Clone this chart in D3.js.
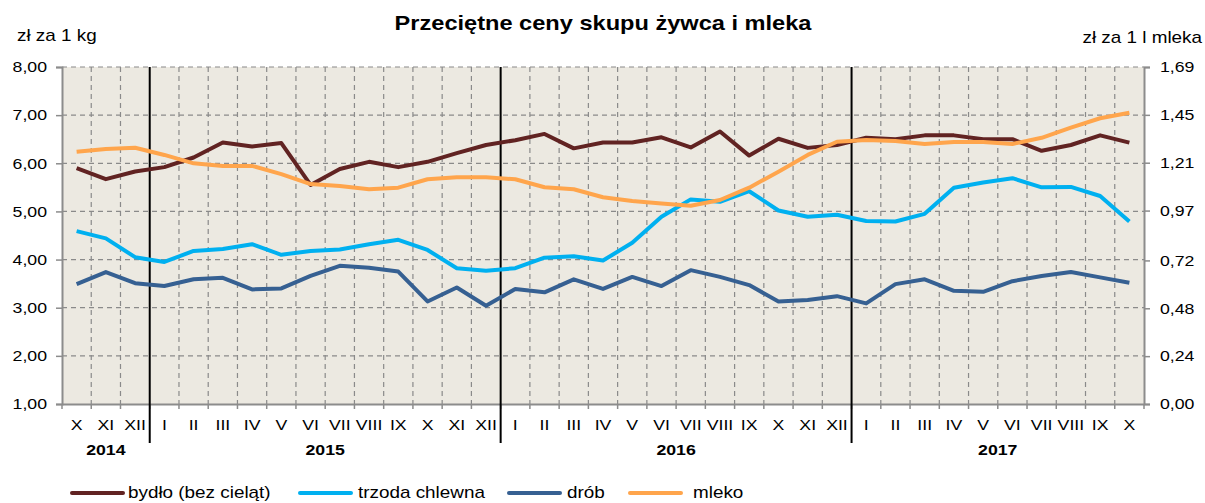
<!DOCTYPE html>
<html>
<head>
<meta charset="utf-8">
<script src="https://cdn.jsdelivr.net/npm/d3@7/dist/d3.min.js"></script>
<style>
  body { margin: 0; background: #fff; }
  svg { font-family: 'Liberation Sans', Arial, sans-serif; }
  .axis path, .axis line { stroke: #8c8c8c; }
  .axis text { font-size: 15px; fill: #000; }
</style>
</head>
<body>
<svg width="1205" height="503"></svg>
<script>
const months = ['X','XI','XII',
  'I','II','III','IV','V','VI','VII','VIII','IX','X','XI','XII',
  'I','II','III','IV','V','VI','VII','VIII','IX','X','XI','XII',
  'I','II','III','IV','V','VI','VII','VIII','IX','X'];
const years = [
  { label: '2014', from: 0, to: 3 },
  { label: '2015', from: 3, to: 15 },
  { label: '2016', from: 15, to: 27 },
  { label: '2017', from: 27, to: 37 }
];

// zł za 1 kg
const bydlo = [5.90, 5.67, 5.83, 5.92, 6.12, 6.43, 6.35, 6.42, 5.55, 5.88, 6.03, 5.92, 6.03,
  6.21, 6.38, 6.48, 6.61, 6.31, 6.43, 6.43, 6.54, 6.33, 6.66, 6.16, 6.51, 6.32, 6.38,
  6.53, 6.50, 6.58, 6.58, 6.50, 6.50, 6.26, 6.38, 6.58, 6.43];
const trzoda = [4.59, 4.44, 4.05, 3.95, 4.18, 4.22, 4.32, 4.10, 4.18, 4.21, 4.32, 4.41, 4.20,
  3.82, 3.77, 3.82, 4.04, 4.07, 3.98, 4.35, 4.89, 5.25, 5.20, 5.42, 5.02, 4.89, 4.93,
  4.80, 4.79, 4.95, 5.49, 5.60, 5.69, 5.50, 5.51, 5.32, 4.79];
const drob = [3.49, 3.74, 3.51, 3.45, 3.59, 3.62, 3.38, 3.40, 3.66, 3.87, 3.83, 3.75, 3.13,
  3.42, 3.04, 3.39, 3.32, 3.59, 3.39, 3.64, 3.45, 3.78, 3.64, 3.47, 3.13, 3.16, 3.24,
  3.09, 3.49, 3.59, 3.35, 3.33, 3.55, 3.66, 3.74, 3.63, 3.52];
// zł za 1 l
const mleko = [1.265, 1.279, 1.285, 1.249, 1.207, 1.194, 1.194, 1.153, 1.103, 1.093, 1.077, 1.085, 1.127,
  1.137, 1.137, 1.127, 1.087, 1.077, 1.037, 1.018, 1.006, 0.994, 1.023, 1.085, 1.165, 1.249, 1.315,
  1.324, 1.319, 1.304, 1.314, 1.314, 1.304, 1.335, 1.386, 1.433, 1.461];

const leftTicks = [1, 2, 3, 4, 5, 6, 7, 8];
const rightTicks = [0, 0.24, 0.48, 0.72, 0.97, 1.21, 1.45, 1.69];

const series = [
  { name: 'bydło (bez cieląt)', values: bydlo, color: '#612322', axis: 'left', lx: 72, tx: 128 },
  { name: 'trzoda chlewna', values: trzoda, color: '#00b0f0', axis: 'left', lx: 300, tx: 358 },
  { name: 'drób', values: drob, color: '#366092', axis: 'left', lx: 509, tx: 567 },
  { name: 'mleko', values: mleko, color: '#ffa54c', axis: 'right', lx: 630, tx: 693 }
];

const svg = d3.select('svg');
const plotL = 62, plotR = 1144, plotT = 67, plotB = 404;
const SX = 1.18; // text in the source is a bit wider than it is tall

const x = d3.scaleBand()
  .domain(d3.range(months.length))
  .range([plotL, plotR]);
const yL = d3.scaleLinear().domain([1, 8]).range([plotB, plotT]);
const yR = d3.scaleLinear().domain([0, 1.69]).range([plotB, plotT]);
const fmt = v => d3.format('.2f')(v).replace('.', ',');

// stretch text horizontally around its anchor point
const stretch = sel => sel.each(function() {
  const t = d3.select(this);
  const tx = +t.attr('x') || 0;
  t.attr('x', 0).attr('transform', `translate(${tx},0) scale(${SX},1)`);
});

// plot background
svg.append('rect')
  .attr('x', plotL).attr('y', plotT)
  .attr('width', plotR - plotL).attr('height', plotB - plotT)
  .attr('fill', '#ece9e1');

// grid
const grid = svg.append('g')
  .attr('stroke', '#8a8a8a')
  .attr('stroke-dasharray', '5,4')
  .attr('stroke-width', 1.2);
grid.selectAll('.h').data(leftTicks.slice(1)).enter()
  .append('line')
  .attr('x1', plotL).attr('x2', plotR)
  .attr('y1', d => yL(d)).attr('y2', d => yL(d));
const yearBreaks = years.slice(1).map(y => y.from);
grid.selectAll('.v').data(d3.range(1, months.length).filter(i => !yearBreaks.includes(i))).enter()
  .append('line')
  .attr('x1', d => x(d)).attr('x2', d => x(d))
  .attr('y1', plotT).attr('y2', plotB);

// axes
svg.append('g')
  .attr('class', 'axis')
  .attr('transform', `translate(${plotL},0)`)
  .call(d3.axisLeft(yL).tickValues(leftTicks).tickFormat(fmt).tickSize(6).tickPadding(9))
  .call(g => g.select('.domain').attr('stroke-width', 2))
  .call(g => g.selectAll('line').attr('stroke-width', 1.5))
  .call(g => g.selectAll('text').call(stretch));

svg.append('g')
  .attr('class', 'axis')
  .attr('transform', `translate(${plotR},0)`)
  .call(d3.axisRight(yR).tickValues(rightTicks).tickFormat(fmt).tickSize(6).tickPadding(10))
  .call(g => g.select('.domain').attr('stroke-width', 2))
  .call(g => g.selectAll('line').attr('stroke-width', 1.5))
  .call(g => g.selectAll('text').call(stretch));

svg.append('g')
  .attr('class', 'axis')
  .attr('transform', `translate(0,${plotB})`)
  .call(d3.axisBottom(x).tickFormat(i => months[i]).tickSize(0).tickPadding(15))
  .call(g => g.select('.domain').attr('stroke-width', 2))
  .call(g => g.selectAll('text').call(stretch));

// boundary tick marks under the x axis
svg.append('g').selectAll('line').data(d3.range(0, months.length + 1)).enter()
  .append('line')
  .attr('x1', d => plotL + d * x.step()).attr('x2', d => plotL + d * x.step())
  .attr('y1', plotB).attr('y2', plotB + 5)
  .attr('stroke', '#8c8c8c').attr('stroke-width', 1.5);

// year separators
svg.append('g').selectAll('line').data(yearBreaks).enter()
  .append('line')
  .attr('x1', d => x(d)).attr('x2', d => x(d))
  .attr('y1', plotT).attr('y2', 443)
  .attr('stroke', '#000').attr('stroke-width', 2);

// year labels
svg.append('g').selectAll('text').data(years).enter()
  .append('text')
  .attr('x', d => (x(d.from) + x(d.to - 1) + x.bandwidth()) / 2)
  .attr('y', 455)
  .attr('text-anchor', 'middle')
  .attr('font-size', 15)
  .attr('font-weight', 'bold')
  .text(d => d.label)
  .call(stretch);

// lines
const cx = i => x(i) + x.bandwidth() / 2;
svg.append('g').selectAll('path').data(series).enter()
  .append('path')
  .attr('fill', 'none')
  .attr('stroke', d => d.color)
  .attr('stroke-width', 4)
  .attr('stroke-linejoin', 'round')
  .attr('d', s => {
    const y = s.axis === 'left' ? yL : yR;
    return d3.line().x((v, i) => cx(i)).y(v => y(v))(s.values);
  });

// title & unit labels
svg.append('text')
  .attr('x', 603).attr('y', 30)
  .attr('text-anchor', 'middle')
  .attr('font-size', 20).attr('font-weight', 'bold')
  .text('Przeciętne ceny skupu żywca i mleka')
  .call(stretch);
svg.append('text')
  .attr('x', 17).attr('y', 41)
  .attr('font-size', 16)
  .text('zł za 1 kg')
  .call(stretch);
svg.append('text')
  .attr('x', 1202).attr('y', 43)
  .attr('text-anchor', 'end')
  .attr('font-size', 16)
  .text('zł za 1 l mleka')
  .call(stretch);

// legend
const legend = svg.append('g').selectAll('g').data(series).enter().append('g');
legend.append('line')
  .attr('x1', d => d.lx).attr('x2', d => d.lx + 51)
  .attr('y1', 493).attr('y2', 493)
  .attr('stroke', d => d.color)
  .attr('stroke-width', 4)
  .attr('stroke-linecap', 'round');
legend.append('text')
  .attr('x', d => d.tx).attr('y', 498)
  .attr('font-size', 16)
  .text(d => d.name)
  .call(stretch);
</script>
</body>
</html>
